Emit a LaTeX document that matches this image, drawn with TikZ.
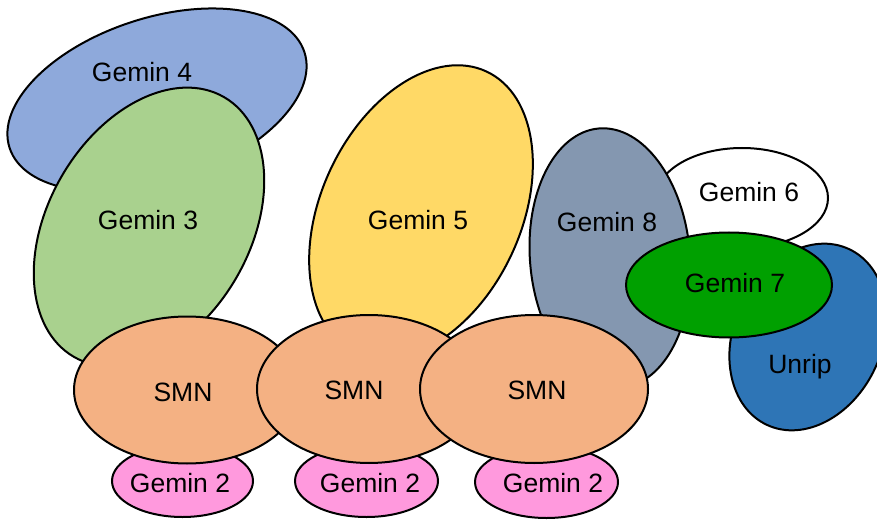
\documentclass[tikz,border=0pt]{standalone}
\usepackage{fontspec}
\setmainfont{Liberation Sans}
\usetikzlibrary{shapes.geometric}

\definecolor{gfour}{HTML}{8EA9DB}
\definecolor{gthree}{HTML}{A9D18E}
\definecolor{gfive}{HTML}{FFD966}
\definecolor{geight}{HTML}{8497B0}
\definecolor{gseven}{HTML}{00A000}
\definecolor{unrip}{HTML}{2E75B6}
\definecolor{smn}{HTML}{F4B183}
\definecolor{gtwo}{HTML}{FF99DD}

\tikzset{
  blob/.style={ellipse, draw=black, line width=2pt, inner sep=0pt},
  lbl/.style={font=\fontsize{26.5}{30}\selectfont, inner sep=0pt}
}

\begin{document}
\begin{tikzpicture}[x=1pt, y=-1pt]
  \useasboundingbox (0,0) rectangle (877,521);
  \clip (0,0) rectangle (877,521);
  \fill[white] (0,0) rectangle (877,521);

  % upper complexes
  \node[blob, fill=gfour, minimum width=310pt, minimum height=164pt, rotate=18] (g4) at (157,100) {};
  \node[blob, fill=gthree, minimum width=300pt, minimum height=202pt, rotate=60] (g3) at (149,227) {};
  \node[blob, fill=gfive, minimum width=310pt, minimum height=200pt, rotate=65] (g5) at (421,212) {};
  \node[blob, fill=white, minimum width=172pt, minimum height=100pt] (g6) at (742,198) {};
  \node[blob, fill=unrip, minimum width=194pt, minimum height=148pt, rotate=65] (ur) at (808,337) {};
  \node[blob, fill=geight, minimum width=160pt, minimum height=260pt, rotate=5] (g8) at (610,258) {};
  \node[blob, fill=gseven, minimum width=206pt, minimum height=105pt] (g7) at (729,285) {};

  % Gemin 2 beneath each SMN
  \node[blob, fill=gtwo, minimum width=141pt, minimum height=72pt] (g2a) at (182.5,481) {};
  \node[blob, fill=gtwo, minimum width=143pt, minimum height=72pt] (g2b) at (366.5,481) {};
  \node[blob, fill=gtwo, minimum width=143pt, minimum height=72pt] (g2c) at (546.5,482) {};

  % SMN row
  \node[blob, fill=smn, minimum width=226pt, minimum height=147pt] (smna) at (187,390) {};
  \node[blob, fill=smn, minimum width=224pt, minimum height=148pt] (smnb) at (369,389) {};
  \node[blob, fill=smn, minimum width=228pt, minimum height=148pt] (smnc) at (534,389) {};

  % labels
  \node[lbl] (t4) at (142,72) {Gemin 4};
  \node[lbl] (t3) at (148,220) {Gemin 3};
  \node[lbl] (t5) at (418,220) {Gemin 5};
  \node[lbl] (t8) at (607,222) {Gemin 8};
  \node[lbl] (t6) at (749,192) {Gemin 6};
  \node[lbl] (t7) at (735,283) {Gemin 7};
  \node[lbl] (tu) at (800,367) {Unrip};
  \node[lbl] (tsa) at (183,392) {SMN};
  \node[lbl] (tsb) at (354,390) {SMN};
  \node[lbl] (tsc) at (537,390) {SMN};
  \node[lbl] (t2a) at (180,483) {Gemin 2};
  \node[lbl] (t2b) at (370,483) {Gemin 2};
  \node[lbl] (t2c) at (553,483) {Gemin 2};
\end{tikzpicture}
\end{document}
